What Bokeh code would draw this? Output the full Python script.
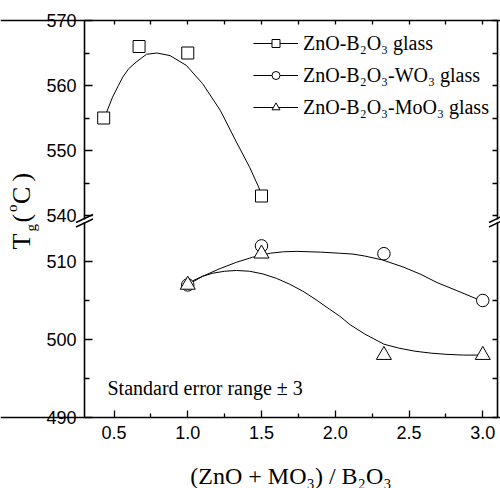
import math
from bokeh.plotting import figure
from bokeh.models import (Range1d, LinearAxis, FixedTicker, Legend, LegendItem,
                          Label, Arrow, PrintfTickFormatter)
from bokeh.embed import file_html
from bokeh.resources import INLINE

# ---------------- data ----------------
ratio_zb = [0.43, 0.67, 1.0, 1.5]
tg_zb = [555, 566, 565, 543]
ratio_w = [1.0, 1.5, 2.33, 3.0]
tg_w = [507, 512, 511, 505]
ratio_mo = [1.0, 1.5, 2.33, 3.0]
tg_mo = [507, 511, 498, 498]

# smooth fitted curves
fit_zb_x = [0.43, 0.45, 0.49, 0.53, 0.56, 0.60, 0.65, 0.72, 0.79, 0.88, 0.99,
            1.10, 1.22, 1.33, 1.42, 1.48, 1.50]
fit_zb_y = [555.0, 555.9, 558.2, 560.0, 561.3, 562.6, 563.6, 564.8, 565.0, 564.6,
            563.1, 560.3, 556.2, 551.3, 547.4, 544.4, 543.2]
fit_w_x = [1.0, 1.1, 1.22, 1.33, 1.44, 1.56, 1.65, 1.74, 1.90, 2.03, 2.12, 2.20,
           2.32, 2.46, 2.58, 2.69, 2.82, 2.96, 3.0]
fit_w_y = [507.0, 508.1, 509.1, 509.9, 510.55, 511.06, 511.25, 511.3, 511.2, 511.06,
           510.95, 510.7, 510.2, 509.3, 508.35, 507.3, 506.3, 505.2, 505.0]
fit_mo_x = [1.0, 1.03, 1.10, 1.17, 1.25, 1.33, 1.42, 1.51, 1.60, 1.69, 1.78, 1.87,
            1.96, 2.03, 2.10, 2.20, 2.33, 2.43, 2.54, 2.65, 2.75, 2.87, 3.0]
fit_mo_y = [507.0, 507.5, 508.1, 508.5, 508.75, 508.85, 508.75, 508.4, 507.85, 507.1,
            506.2, 505.1, 503.9, 503.0, 501.9, 500.7, 499.4, 498.9, 498.5, 498.25,
            498.1, 498.0, 498.0]

x_major = [0.5, 1.0, 1.5, 2.0, 2.5, 3.0]
x_minor = [0.75, 1.25, 1.75, 2.25, 2.75]
x_top = [0.5, 0.75, 1.0, 1.25, 1.5, 1.75, 2.0, 2.25, 2.5, 2.75, 3.0]
y_top_major = [540, 550, 560, 570]
y_top_minor = [545, 555, 565]
y_bot_major = [490, 500, 510]
y_bot_minor = [495, 505]

labels = ["ZnO-B\u2082O\u2083 glass", "ZnO-B\u2082O\u2083-WO\u2083 glass",
          "ZnO-B\u2082O\u2083-MoO\u2083 glass"]
x_title = "(ZnO + MO\u2083) / B\u2082O\u2083"
note = "Standard error range \u00b1 3"

# ---------------- layout (page pixels, canvas at page origin) ----------------
W, H = 500, 488
FL, FR = 84, 497          # plot box left/right
TOP, BOT = 20, 417        # plot box top/bottom
X0, X1 = 0.3, 3.1
PX_PER_X = (FR - FL) / (X1 - X0)
PX_LOW = 7.8              # px per degree, lower panel (490 at BOT)
PX_UP = 6.5               # px per degree, upper panel (570 at TOP)
SERIF = "Liberation Serif"
SANS = "Liberation Sans"


def fx(px):
    return X0 + (px - FL) / PX_PER_X


def yl(py):
    return 490 + (BOT - py) / PX_LOW


def yu(py):
    return 570 - (py - TOP) / PX_UP


p = figure(width=W, height=H, title=None,
           x_range=Range1d(fx(0), fx(W)), y_range=Range1d(yl(H), yl(0)),
           output_backend="svg", toolbar_location=None, min_border=0,
           x_axis_location=None, y_axis_location=None)
p.extra_y_ranges = {"up": Range1d(yu(H), yu(0))}
p.outline_line_color = None
p.xgrid.visible = False
p.ygrid.visible = False
p.background_fill_color = "white"
p.border_fill_color = "white"


def axis(side, ticks, minor, loc, tin, tmin, labels_on, bounds=None, yname="default",
         fmt=None):
    ax = LinearAxis(ticker=FixedTicker(ticks=ticks, minor_ticks=minor),
                    fixed_location=loc, y_range_name=yname)
    if bounds is not None:
        ax.bounds = bounds
    ax.axis_line_color = "black"
    ax.axis_line_width = 1.6
    ax.major_tick_line_color = "black"
    ax.minor_tick_line_color = "black"
    ax.major_tick_line_width = 1.3
    ax.minor_tick_line_width = 1.3
    ax.major_tick_in = tin
    ax.major_tick_out = 0
    ax.minor_tick_in = tmin
    ax.minor_tick_out = 0
    if labels_on:
        ax.major_label_text_font = SANS
        ax.major_label_text_font_size = "18px"
        ax.major_label_text_color = "black"
        ax.major_label_standoff = 8
    else:
        ax.major_label_text_color = None
    if fmt is not None:
        ax.formatter = fmt
    p.add_layout(ax, side)


low_b = (490, yl(222))
up_b = (yu(218.5), 570)
axis("left", y_bot_major, y_bot_minor, X0, 8, 5, True, low_b)
axis("left", y_top_major, y_top_minor, X0, 8, 5, True, up_b, "up")
axis("right", y_bot_major, y_bot_minor, X1, 5, 5, False, low_b)
axis("right", y_top_major, y_top_minor, X1, 5, 5, False, up_b, "up")
axis("above", x_top, [], 570, 4, 4, False, None, "up")
axis("below", x_major, x_minor, 490, 7, 4, True, None, "default",
     PrintfTickFormatter(format="%.1f"))

# fitted curves and measured points
lz = p.line(fit_zb_x, fit_zb_y, line_color="black", line_width=1, y_range_name="up")
lw = p.line(fit_w_x, fit_w_y, line_color="black", line_width=1)
lm = p.line(fit_mo_x, fit_mo_y, line_color="black", line_width=1)
sz = p.scatter(ratio_zb, tg_zb, marker="square", size=12, line_color="black",
               fill_color="white", line_width=1, y_range_name="up")
sw = p.scatter(ratio_w, tg_w, marker="circle", size=12.5, line_color="black",
               fill_color="white", line_width=1)
sm = p.scatter(ratio_mo, tg_mo, marker="triangle", size=15, line_color="black",
               fill_color="white", line_width=1)

items = [LegendItem(label=labels[0], renderers=[lz, sz]),
         LegendItem(label=labels[1], renderers=[lw, sw]),
         LegendItem(label=labels[2], renderers=[lm, sm])]
ROW = 23
leg = Legend(items=items, location=(253, H - (43 - ROW / 2 + 3 * ROW + 2 * (32 - ROW))),
             orientation="vertical",
             glyph_width=45, glyph_height=20, label_height=ROW, spacing=32 - ROW,
             label_standoff=5, padding=0, margin=0,
             label_text_font=SERIF, label_text_font_size="20px",
             label_text_color="black", border_line_color=None,
             background_fill_alpha=0)
p.add_layout(leg)

# axis break marks
for bx in (FL, FR):
    for cy in (218, 222.5):
        p.add_layout(Arrow(end=None, x_start=fx(bx - 8.5), y_start=yl(cy + 4),
                           x_end=fx(bx + 8.5), y_end=yl(cy - 4),
                           line_color="black", line_width=1.4))

# texts (anchor compensates for the renderer's baseline offset)
p.add_layout(Label(x=fx(107), y=yl(387), text=note, text_font=SERIF,
                   text_font_size="20px", text_color="black",
                   text_baseline="alphabetic", text_align="left"))
p.add_layout(Label(x=fx((FL + FR) / 2), y=yl(475.5), text=x_title, text_font=SERIF,
                   text_font_size="24px", text_color="black",
                   text_baseline="alphabetic", text_align="center"))


def ylab(px, py, txt, size):
    p.add_layout(Label(x=fx(px), y=yl(py), text=txt, angle=math.pi / 2,
                       text_font=SERIF, text_font_size=size, text_color="black",
                       text_align="left", text_baseline="alphabetic"))


ylab(20.5, 249, "T", "26px")
ylab(30, 231, "g", "15px")
ylab(20.5, 222, "(", "26px")
ylab(11, 211.5, "o", "15px")
ylab(20.5, 203.5, "C", "26px")
ylab(20.5, 181, ")", "26px")

open("out.html", "w").write(file_html(p, INLINE))
